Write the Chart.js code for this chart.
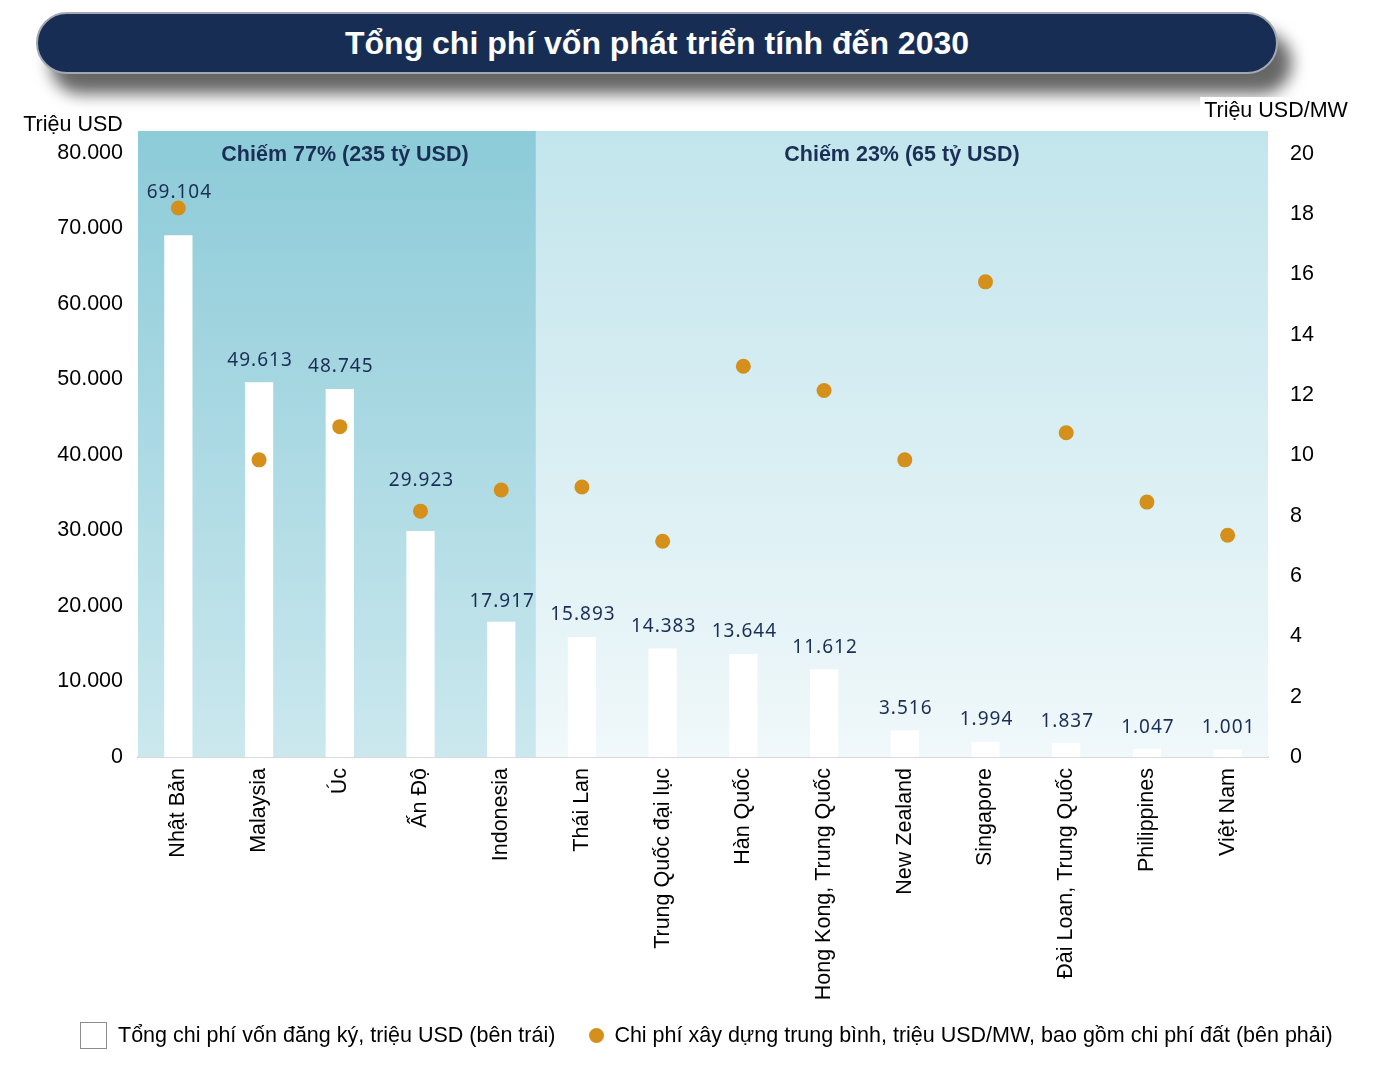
<!DOCTYPE html>
<html lang="vi">
<head>
<meta charset="utf-8">
<title>Tổng chi phí vốn phát triển tính đến 2030</title>
<script src="https://cdn.jsdelivr.net/npm/chart.js@4.4.1/dist/chart.umd.min.js"></script>
<style>
    body { margin: 0; background: #ffffff; font-family: "Liberation Sans", Arial, sans-serif; }
    #wrap { position: relative; width: 1373px; height: 1074px; overflow: hidden; }
    #banner {
        position: absolute; left: 36px; top: 12px; width: 1238px; height: 58px;
        border-radius: 31px; background: #172d54; border: 2px solid #a3a8b2;
        box-shadow: 14px 20px 16px rgba(0, 0, 0, 0.6);
        color: #ffffff; font-weight: bold; font-size: 32px; line-height: 58px; text-align: center;
        z-index: 0;
    }
    #chart { position: absolute; left: 0; top: 0; z-index: 1; }
    #legend {
        position: absolute; left: 80px; top: 1022px; z-index: 2;
        font-size: 21.5px; color: #000000; display: flex; align-items: center; white-space: nowrap;
    }
    .box { width: 25px; height: 25px; border: 1px solid #8c8c8c; background: #ffffff; margin-right: 11px; }
    .dot { width: 15px; height: 15px; border-radius: 50%; background: #d4901a; margin-left: 34px; margin-right: 10px; }
</style>
</head>
<body>
<div id="wrap">
    <div id="banner">Tổng chi phí vốn phát triển tính đến 2030</div>
    <canvas id="chart" width="1373" height="1074"></canvas>
    <div id="legend">
        <span class="box"></span><span>Tổng chi phí vốn đăng ký, triệu USD (bên trái)</span>
        <span class="dot"></span><span>Chi phí xây dựng trung bình, triệu USD/MW, bao gồm chi phí đất (bên phải)</span>
    </div>
</div>
<script>
// du lieu
var quocGia = ['Nhật Bản', 'Malaysia', 'Úc', 'Ấn Độ', 'Indonesia', 'Thái Lan', 'Trung Quốc đại lục',
    'Hàn Quốc', 'Hong Kong, Trung Quốc', 'New Zealand', 'Singapore', 'Đài Loan, Trung Quốc', 'Philippines', 'Việt Nam'];
var tongChiPhi = [69104, 49613, 48745, 29923, 17917, 15893, 14383, 13644, 11612, 3516, 1994, 1837, 1047, 1001];
var chiPhiMW = [18.2, 9.85, 10.95, 8.15, 8.85, 8.95, 7.15, 12.95, 12.15, 9.85, 15.75, 10.75, 8.45, 7.35];
var tickTrai = [0, 10000, 20000, 30000, 40000, 50000, 60000, 70000, 80000];
var tickPhai = [0, 2, 4, 6, 8, 10, 12, 14, 16, 18, 20];
var nhomVung = ['Chiếm 77% (235 tỷ USD)', 'Chiếm 23% (65 tỷ USD)'];

// nhan so lieu: nang them cho mot so cot de tranh cham cham tron
var nangNhan = [21, 0, 0, 28, -2, 0, 0, 0, 0, 0, 0, 0, 0, 0];

var FONT = '"Liberation Sans", Arial, sans-serif';

function dinhDang(n) {
    return String(n).replace(/\B(?=(\d{3})+(?!\d))/g, '.');
}

var nenVaNhan = {
    id: 'nenVaNhan',
    beforeDatasetsDraw: function (chart) {
        var ctx = chart.ctx, a = chart.chartArea, x = chart.scales.x;
        var ranh = x.getPixelForValue(4.43);

        ctx.save();
        var g1 = ctx.createLinearGradient(0, a.top, 0, a.bottom);
        g1.addColorStop(0, '#8ccbd8');
        g1.addColorStop(1, '#cbe8ee');
        ctx.fillStyle = g1;
        ctx.fillRect(a.left, a.top, ranh - a.left, a.bottom - a.top);

        var g2 = ctx.createLinearGradient(0, a.top, 0, a.bottom);
        g2.addColorStop(0, '#c2e5ec');
        g2.addColorStop(1, '#f0f8fa');
        ctx.fillStyle = g2;
        ctx.fillRect(ranh, a.top, a.right - ranh, a.bottom - a.top);

        // tieu de vung
        ctx.fillStyle = '#1b2f56';
        ctx.font = 'bold 21.5px ' + FONT;
        ctx.textAlign = 'center';
        ctx.textBaseline = 'middle';
        ctx.fillText(nhomVung[0], (a.left + ranh) / 2 + 8, 155);
        ctx.fillText(nhomVung[1], (ranh + a.right) / 2, 155);

        // so lieu tren cot
        ctx.font = '19px "Noto Sans", sans-serif';
        ctx.letterSpacing = '1px';
        var meta = chart.getDatasetMeta(0);
        meta.data.forEach(function (bar, i) {
            ctx.fillText(dinhDang(tongChiPhi[i]), bar.x + 1, bar.y - 22 - nangNhan[i]);
        });
        ctx.restore();
    },
    afterDraw: function (chart) {
        var ctx = chart.ctx;
        ctx.save();
        ctx.font = '21.5px ' + FONT;
        ctx.textBaseline = 'middle';
        ctx.textAlign = 'center';
        ctx.fillStyle = '#000000';
        ctx.fillText('Triệu USD', 73, 125);
        var w = ctx.measureText('Triệu USD/MW').width;
        ctx.fillStyle = '#ffffff';
        ctx.fillRect(1276 - w / 2 - 4, 97, w + 8, 28);
        ctx.fillStyle = '#000000';
        ctx.fillText('Triệu USD/MW', 1276, 111);
        ctx.restore();
    }
};

var ctx = document.getElementById('chart');
var bieuDo = new Chart(ctx, {
    type: 'bar',
    data: {
        labels: quocGia,
        datasets: [{
            label: 'Tổng chi phí vốn đăng ký, triệu USD (bên trái)',
            data: tongChiPhi,
            backgroundColor: '#ffffff',
            borderWidth: 0,
            barPercentage: 0.35,
            categoryPercentage: 1,
            yAxisID: 'y',
            order: 1
        }, {
            type: 'line',
            label: 'Chi phí xây dựng trung bình, triệu USD/MW, bao gồm chi phí đất (bên phải)',
            data: chiPhiMW,
            showLine: false,
            pointRadius: 7.5,
            pointBackgroundColor: '#d4901a',
            pointBorderWidth: 0,
            yAxisID: 'y1',
            order: 0
        }]
    },
    options: {
        responsive: false,
        animation: false,
        layout: { padding: { top: 131, left: 0, right: 0, bottom: 0 } },
        plugins: {
            legend: { display: false },
            tooltip: { enabled: false }
        },
        scales: {
            x: {
                grid: { display: false, drawTicks: false },
                border: { display: true, color: '#d9d9d9', width: 2 },
                ticks: {
                    autoSkip: false, minRotation: 90, maxRotation: 90, padding: 11,
                    color: '#000000', font: { family: FONT, size: 21.5 }
                },
                afterFit: function (scale) { scale.height = 317; }
            },
            y: {
                position: 'left', min: 0, max: 82900,
                grid: { display: false, drawTicks: false },
                border: { display: false },
                afterBuildTicks: function (scale) {
                    scale.ticks = tickTrai.map(function (v) { return { value: v }; });
                },
                ticks: {
                    padding: 15, color: '#000000',
                    font: { family: FONT, size: 21.5 },
                    callback: function (v) { return dinhDang(v); }
                },
                afterFit: function (scale) { scale.width = 138; }
            },
            y1: {
                position: 'right', min: 0, max: 20.75,
                grid: { display: false, drawTicks: false },
                border: { display: false },
                afterBuildTicks: function (scale) {
                    scale.ticks = tickPhai.map(function (v) { return { value: v }; });
                },
                ticks: {
                    padding: 22, color: '#000000',
                    font: { family: FONT, size: 21.5 }
                },
                afterFit: function (scale) { scale.width = 105; }
            }
        }
    },
    plugins: [nenVaNhan]
});
</script>
</body>
</html>
